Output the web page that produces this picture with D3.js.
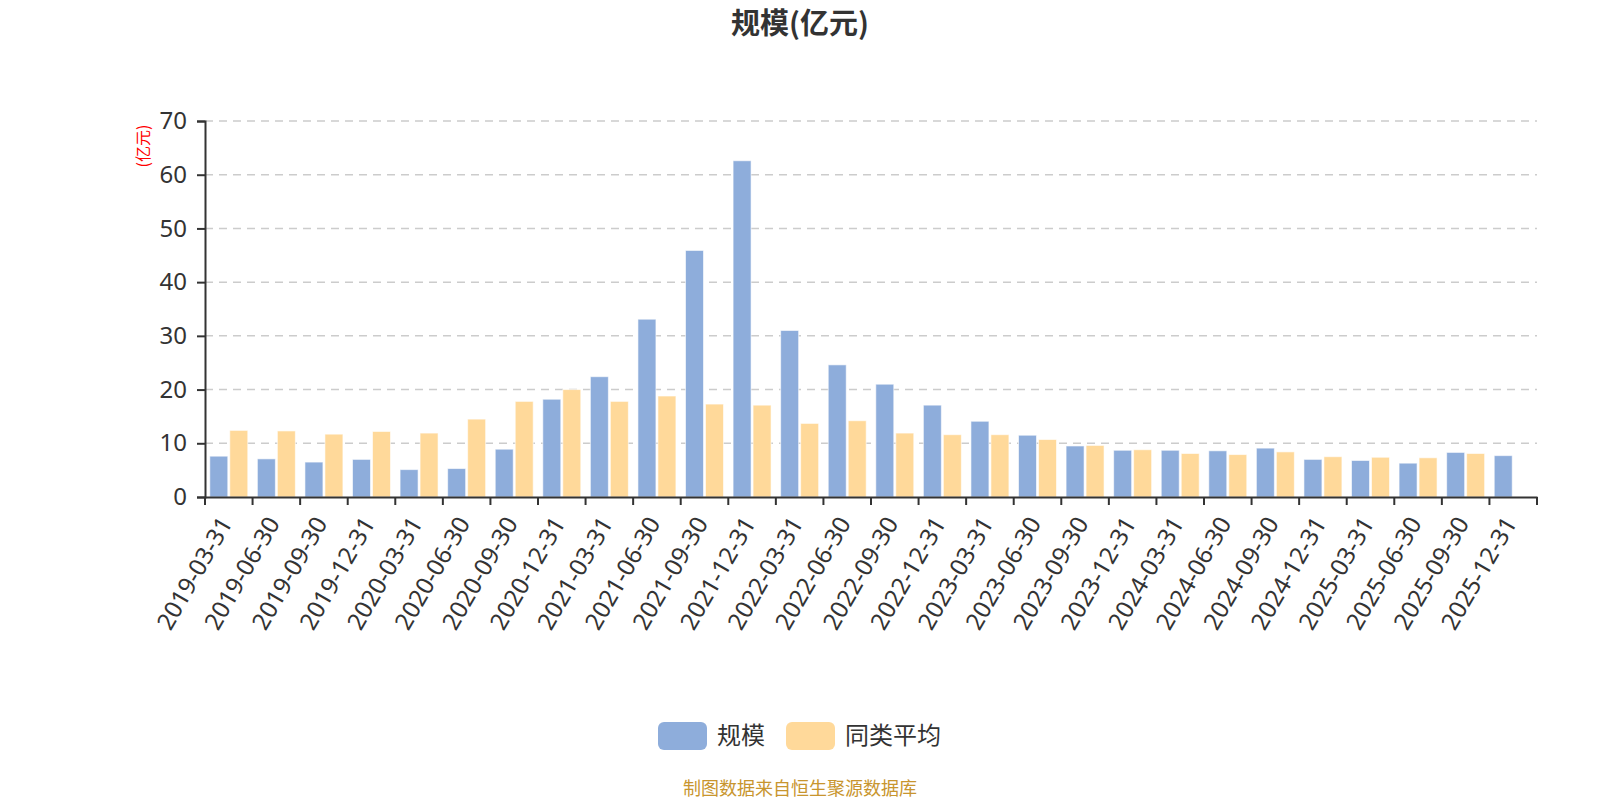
<!DOCTYPE html>
<html>
<head>
<meta charset="utf-8">
<script src="https://cdn.jsdelivr.net/npm/d3@7"></script>
<style>
  body { margin: 0; background: #fff; }
  svg { display: block; font-family: "Noto Sans", "Noto Sans CJK SC", sans-serif; }
</style>
</head>
<body>
<script>
(function(){

  var dates = ["2019-03-31","2019-06-30","2019-09-30","2019-12-31","2020-03-31","2020-06-30","2020-09-30","2020-12-31",
               "2021-03-31","2021-06-30","2021-09-30","2021-12-31","2022-03-31","2022-06-30","2022-09-30","2022-12-31",
               "2023-03-31","2023-06-30","2023-09-30","2023-12-31","2024-03-31","2024-06-30","2024-09-30","2024-12-31",
               "2025-03-31","2025-06-30","2025-09-30","2025-12-31"];
  var scale = [7.6, 7.1, 6.5, 7.0, 5.1, 5.3, 8.9, 18.2, 22.4, 33.1, 45.9, 62.6, 31.0, 24.6, 21.0, 17.1,
               14.1, 11.5, 9.5, 8.7, 8.7, 8.6, 9.1, 7.0, 6.8, 6.3, 8.3, 7.7];
  var peerAvg = [12.4, 12.3, 11.7, 12.2, 11.9, 14.5, 17.8, 20.0, 17.8, 18.8, 17.3, 17.1, 13.7, 14.2, 11.9, 11.6,
                 11.6, 10.7, 9.6, 8.8, 8.1, 7.9, 8.4, 7.5, 7.4, 7.3, 8.1, null];
  var seriesNames = ["规模", "同类平均"];
  var yTicks = [0, 10, 20, 30, 40, 50, 60, 70];

  const WIDTH = 1600;
  const HEIGHT = 800;
  const LEFT = 205, RIGHT = 1537, TOP = 121, BOTTOM = 497;
  const COLORS = ["#8eaddb", "#ffd99a"];
  const CJK = "'Noto Sans CJK SC', sans-serif";

  var svg = d3.select("body").append("svg")
    .attr("width", WIDTH).attr("height", HEIGHT);

  var x0 = d3.scaleBand().domain(dates).range([LEFT, RIGHT]).padding(0);
  var x1 = d3.scaleBand().domain(seriesNames).range([0, x0.bandwidth()])
    .paddingInner(0.1).paddingOuter(0.24);
  var y = d3.scaleLinear().domain([0, 70]).range([BOTTOM, TOP]);

  // title
  svg.append("text")
    .attr("x", 800).attr("y", 34)
    .attr("text-anchor", "middle")
    .style("font-family", CJK).style("font-weight", "bold")
    .style("font-size", "29px").attr("fill", "#333")
    .text("规模(亿元)");

  // grid
  svg.append("g").selectAll("line").data(yTicks.filter(function(d){ return d > 0; })).enter()
    .append("line")
    .attr("x1", LEFT).attr("x2", RIGHT)
    .attr("y1", function(d){ return y(d); }).attr("y2", function(d){ return y(d); })
    .attr("stroke", "#ccc").attr("stroke-width", 1.5)
    .attr("stroke-dasharray", "8,6");

  // bars
  var data = [scale, peerAvg];
  data.forEach(function(vals, si){
    svg.append("g").selectAll("rect")
      .data(vals.map(function(v, i){ return { d: dates[i], v: v }; }).filter(function(o){ return o.v != null; }))
      .enter().append("rect")
      .attr("x", function(o){ return x0(o.d) + x1(seriesNames[si]); })
      .attr("y", function(o){ return y(o.v); })
      .attr("width", x1.bandwidth())
      .attr("height", function(o){ return BOTTOM - y(o.v); })
      .attr("fill", COLORS[si])
      .attr("stroke", "rgba(255,255,255,0.6)").attr("stroke-width", 1);
  });

  // y axis
  var yAxis = svg.append("g")
    .attr("transform", "translate(" + LEFT + ",0)")
    .call(d3.axisLeft(y).tickValues(yTicks).tickSize(8).tickPadding(10));
  yAxis.select(".domain").attr("stroke", "#333").attr("stroke-width", 2);
  yAxis.selectAll(".tick line").attr("stroke", "#333").attr("stroke-width", 2);
  yAxis.selectAll(".tick text").attr("fill", "#333")
    .style("font-size", "24px").style("font-family", "'Noto Sans', sans-serif");

  // x axis
  var xAxis = svg.append("g")
    .attr("transform", "translate(0," + BOTTOM + ")")
    .call(d3.axisBottom(x0).tickSize(0).tickSizeOuter(0).tickFormat(""));
  xAxis.select(".domain").attr("stroke", "#333").attr("stroke-width", 2);
  xAxis.selectAll(".tick").remove();

  var bounds = dates.map(function(d){ return x0(d); }).concat([RIGHT]);
  xAxis.selectAll("line.tk").data(bounds).enter().append("line")
    .attr("class", "tk")
    .attr("x1", function(d){ return d; }).attr("x2", function(d){ return d; })
    .attr("y1", 0).attr("y2", 8)
    .attr("stroke", "#333").attr("stroke-width", 2);

  xAxis.selectAll("text.lbl").data(dates).enter().append("text")
    .attr("class", "lbl")
    .attr("transform", function(d){
      return "translate(" + (x0(d) + x0.bandwidth() / 2 - 3) + ",22) rotate(-60)";
    })
    .attr("text-anchor", "end")
    .attr("dy", "0.35em")
    .attr("fill", "#333")
    .style("font-size", "24px").style("font-family", "'Noto Sans', sans-serif")
    .text(function(d){ return d; });

  // y unit label
  svg.append("text")
    .attr("transform", "translate(149,146) rotate(-90)")
    .attr("text-anchor", "middle")
    .attr("fill", "#ff0000")
    .style("font-family", CJK).style("font-size", "16px")
    .text("(亿元)");

  // legend
  var legendX = [658, 786];
  var legend = svg.append("g").selectAll("g").data(seriesNames).enter().append("g")
    .attr("transform", function(d, i){ return "translate(" + legendX[i] + ",722)"; });
  legend.append("rect")
    .attr("width", 49).attr("height", 28).attr("rx", 6)
    .attr("fill", function(d, i){ return COLORS[i]; });
  legend.append("text")
    .attr("x", 59).attr("y", 14).attr("dy", "0.35em")
    .attr("fill", "#333")
    .style("font-family", CJK).style("font-size", "24px")
    .text(function(d){ return d; });

  // source
  svg.append("text")
    .attr("x", 800).attr("y", 795)
    .attr("text-anchor", "middle")
    .attr("fill", "#c8952e")
    .style("font-family", CJK).style("font-size", "18px")
    .text("制图数据来自恒生聚源数据库");

})();
</script>
</body>
</html>
